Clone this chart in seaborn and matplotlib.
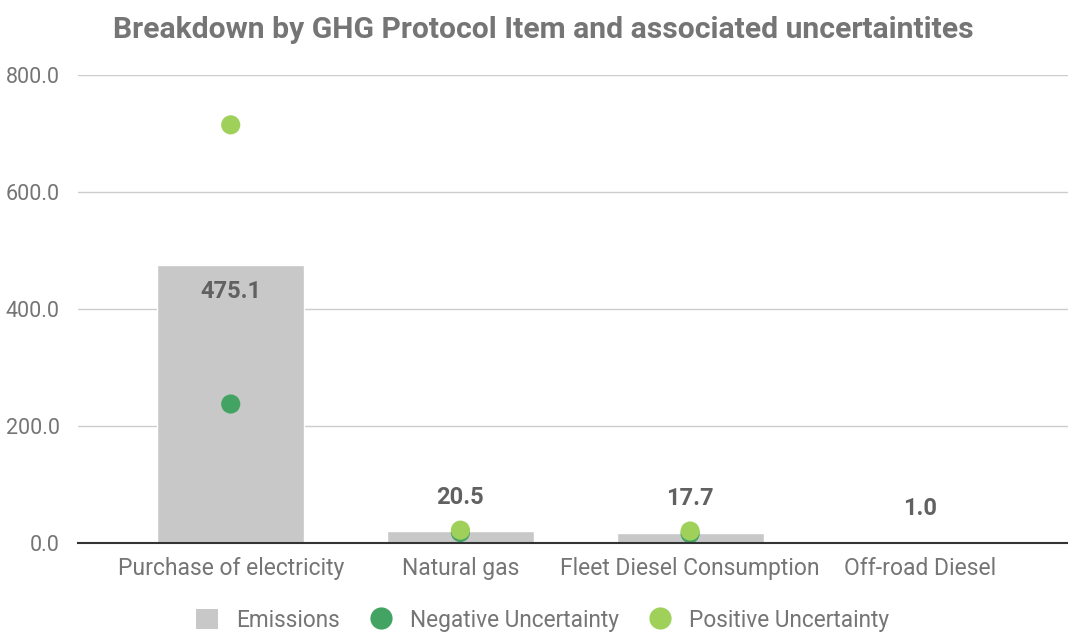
import matplotlib
matplotlib.use("Agg")
import matplotlib.pyplot as plt
import seaborn as sns
import pandas as pd
import numpy as np
from matplotlib.lines import Line2D
from matplotlib.patches import Patch

categories = ["Purchase of electricity", "Natural gas", "Fleet Diesel Consumption", "Off-road Diesel"]
emissions = [475.1, 20.5, 17.7, 1.0]
negative_unc = [237.5, 18.0, 16.0, np.nan]
positive_unc = [714.5, 22.0, 20.5, np.nan]
y_ticks = [0, 200, 400, 600, 800]

sns.set_theme(style="white")
plt.rcParams['font.family'] = ['Roboto', 'DejaVu Sans']

bar_color = "#c8c8c8"
neg_color = "#43a363"
pos_color = "#9fd15a"
text_color = "#757575"
label_color = "#616161"

df = pd.DataFrame({"cat": categories, "emissions": emissions,
                   "neg": negative_unc, "pos": positive_unc})

fig = plt.figure(figsize=(10.68, 6.34), dpi=100)
ax = fig.add_axes([0.073, 0.1435, 0.927, 0.7385])

sns.barplot(data=df, x="cat", y="emissions", color=bar_color, width=0.64,
            saturation=1, ax=ax, zorder=2)
sns.scatterplot(data=df, x="cat", y="neg", color=neg_color, s=190,
                edgecolor="none", ax=ax, zorder=3)
sns.scatterplot(data=df, x="cat", y="pos", color=pos_color, s=190,
                edgecolor="none", ax=ax, zorder=4)

ax.set_ylim(0, 800)
ax.set_xlim(-0.665, 3.645)
ax.set_yticks(y_ticks)
ax.set_yticklabels([f"{v:.1f}" for v in y_ticks], color=text_color, fontsize=15.5)
ax.tick_params(axis="x", colors=text_color, labelsize=16.5, length=0, pad=10)
ax.tick_params(axis="y", length=0, pad=13)
ax.set_xlabel("")
ax.set_ylabel("")
ax.yaxis.grid(True, color="#cccccc", linewidth=1)
for s in ["top", "right", "left"]:
    ax.spines[s].set_visible(False)
ax.spines["bottom"].set_color("#333333")
ax.spines["bottom"].set_linewidth(1.5)
ax.spines["bottom"].set_zorder(5)

for i, v in enumerate(emissions):
    if v > 100:
        ax.text(i, v - 45, f"{v:.1f}", ha="center", va="center",
                fontsize=17, fontweight="bold", color=label_color)
    else:
        ax.text(i, v + 58, f"{v:.1f}", ha="center", va="center",
                fontsize=17, fontweight="bold", color=label_color)

fig.suptitle("Breakdown by GHG Protocol Item and associated uncertaintites",
             x=0.509, y=0.975, fontsize=21.7, fontweight="bold", color=text_color)

handles = [
    Patch(facecolor=bar_color, edgecolor="none", label="Emissions"),
    Line2D([], [], marker="o", linestyle="none", markersize=16,
           markerfacecolor=neg_color, markeredgecolor="none", label="Negative Uncertainty"),
    Line2D([], [], marker="o", linestyle="none", markersize=16,
           markerfacecolor=pos_color, markeredgecolor="none", label="Positive Uncertainty"),
]
fig.legend(handles=handles, loc="center", bbox_to_anchor=(0.508, 0.022), ncol=3,
           frameon=False, fontsize=16.3, labelcolor=text_color, handlelength=1.0,
           handleheight=1.0, handletextpad=0.8, columnspacing=1.3)

fig.savefig("out.png", dpi=100)
